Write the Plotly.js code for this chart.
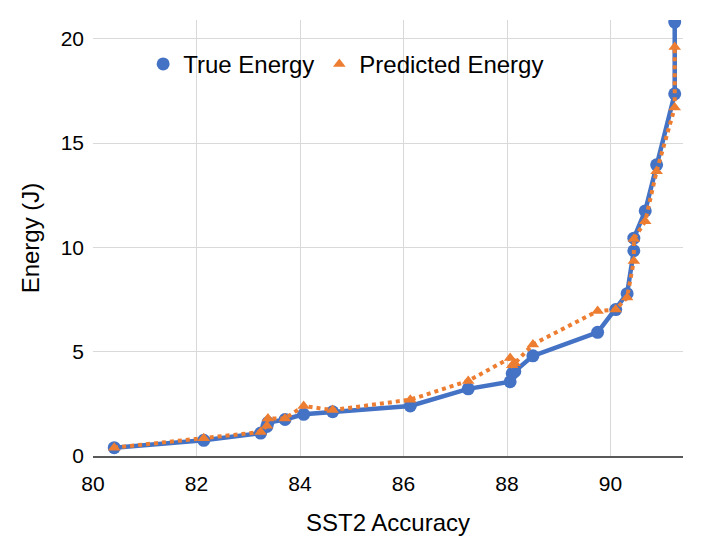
<!DOCTYPE html>
<html><head><meta charset="utf-8">
<script src="https://cdn.plot.ly/plotly-3.0.1.min.js"></script>
<style>body{margin:0;background:#fff}#c{width:706px;height:546px}</style>
</head><body><div id="c"></div>
<script>
const trueX = [80.41, 82.14, 83.24, 83.36, 83.38, 83.71, 84.07, 84.63, 86.13, 87.25, 88.06, 88.1, 88.15, 88.5, 89.75, 90.1, 90.32, 90.45, 90.45, 90.67, 90.89, 91.24, 91.24];
const trueY = [0.4, 0.75, 1.1, 1.42, 1.6, 1.75, 2.0, 2.12, 2.4, 3.22, 3.56, 3.95, 4.05, 4.8, 5.93, 7.02, 7.78, 9.84, 10.44, 11.75, 13.96, 17.36, 20.8];
const predX = [80.41, 82.14, 83.24, 83.36, 83.38, 83.71, 84.07, 84.63, 86.13, 87.25, 88.06, 88.1, 88.15, 88.5, 89.75, 90.1, 90.32, 90.45, 90.45, 90.67, 90.89, 91.24, 91.24];
const predY = [0.4, 0.85, 1.15, 1.45, 1.8, 1.8, 2.4, 2.2, 2.7, 3.6, 4.7, 4.35, 4.45, 5.35, 6.95, 7.02, 7.6, 9.35, 10.4, 11.25, 13.65, 16.7, 19.6];
const names = ["True Energy", "Predicted Energy"];
const xTitle = "SST2 Accuracy";
const yTitle = "Energy (J)";

const blue = "#4472C4", orange = "#ED7D31";
const data = [
  {x: trueX, y: trueY, name: names[0], mode: "lines+markers", type: "scatter", showlegend: false,
   line: {color: blue, width: 4.5},
   marker: {color: blue, size: 13, symbol: "circle"}},
  {x: predX, y: predY, name: names[1], mode: "lines+markers", type: "scatter", showlegend: false,
   line: {color: orange, width: 4, dash: "dot"},
   marker: {color: orange, size: 11, symbol: "triangle-up"}},
  {x: [null], y: [null], name: names[0], mode: "markers", type: "scatter",
   marker: {color: blue, size: 13, symbol: "circle"}},
  {x: [null], y: [null], name: names[1], mode: "markers", type: "scatter",
   marker: {color: orange, size: 11, symbol: "triangle-up"}}
];
const font = "Liberation Sans, Arial, sans-serif";
const layout = {
  width: 706, height: 546,
  margin: {l: 93, r: 23, t: 20, b: 90},
  paper_bgcolor: "#fff", plot_bgcolor: "#fff",
  font: {family: font, color: "#000"},
  showlegend: true,
  legend: {orientation: "h", x: 0.085, y: 0.95, xanchor: "left", yanchor: "top",
           font: {size: 24, family: font, color: "#000"}, bgcolor: "rgba(0,0,0,0)", itemwidth: 30},
  xaxis: {range: [80, 91.4], dtick: 2, tick0: 80, showgrid: true, gridcolor: "#d9d9d9", gridwidth: 1,
          zeroline: false, showline: true, linecolor: "#595959", linewidth: 1.5, ticks: "",
          ticklabelstandoff: 8,
          tickfont: {size: 21, family: font, color: "#000"},
          title: {text: xTitle, font: {size: 24, family: font, color: "#000"}, standoff: 20}},
  yaxis: {range: [0, 20.9], dtick: 5, tick0: 0, showgrid: true, gridcolor: "#d9d9d9", gridwidth: 1,
          zeroline: false, showline: false, ticks: "",
          ticklabelstandoff: 8,
          tickfont: {size: 21, family: font, color: "#000"},
          title: {text: yTitle, font: {size: 24, family: font, color: "#000"}, standoff: 14}}
};
Plotly.newPlot("c", data, layout, {displayModeBar: false, staticPlot: true});
</script></body></html>
